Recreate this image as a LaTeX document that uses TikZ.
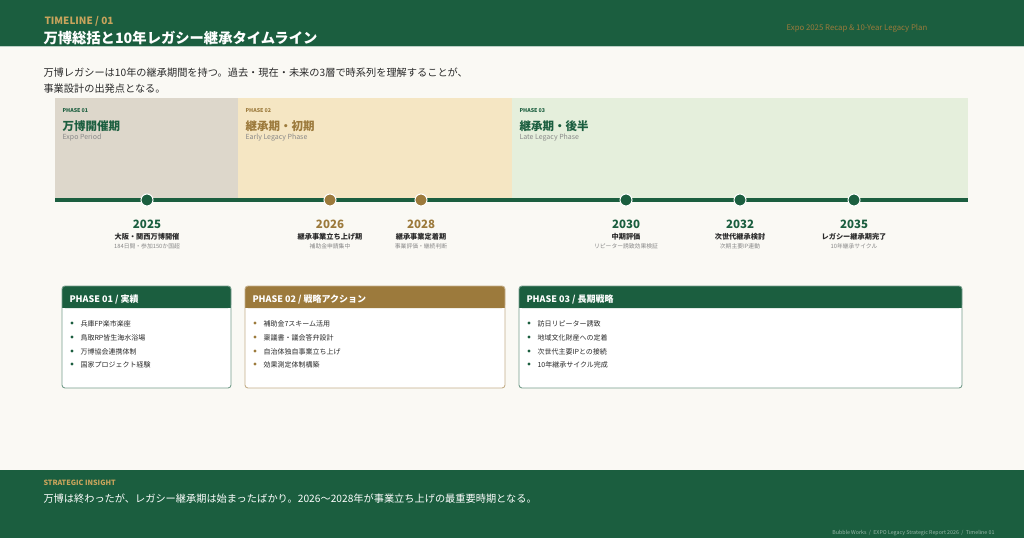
\documentclass[tikz,border=0pt]{standalone}
\usepackage{fontspec}
\setmainfont{Noto Sans CJK JP}
\definecolor{g}{HTML}{1B5E3F}
\definecolor{gold}{HTML}{9C7A3C}
\definecolor{lgold}{HTML}{C9A45C}
\definecolor{bg}{HTML}{FAF9F4}
\definecolor{b1}{HTML}{DDD7CB}
\definecolor{b2}{HTML}{F5E6C3}
\definecolor{b3}{HTML}{E5EFDC}
\definecolor{txt}{HTML}{2A2A2A}
\definecolor{gr}{HTML}{888888}
\begin{document}
\begin{tikzpicture}[x=1pt,y=-1pt,
  yr/.style={font=\fontsize{11.5}{11.5}\selectfont\bfseries},
  lb/.style={font=\fontsize{7.2}{7.2}\selectfont\bfseries,text=txt},
  sb/.style={font=\fontsize{5.8}{5.8}\selectfont,text=gr},
  dotg/.style={circle,fill=g,draw=white,line width=1pt,minimum size=12pt,inner sep=0},
  dotd/.style={circle,fill=gold,draw=white,line width=1pt,minimum size=12pt,inner sep=0},
  bul/.style={anchor=west,font=\fontsize{7}{7}\selectfont,text=txt},
  ch/.style={anchor=west,font=\fontsize{9}{9}\selectfont\bfseries,text=white}]
\useasboundingbox (0,0) rectangle (1024,538);
\fill[bg] (0,0) rectangle (1024,538);
\fill[g] (0,0) rectangle (1024,46);
\draw[white!70!g,line width=1pt] (0,46.5) -- (1024,46.5);
\node[anchor=west,text=lgold,font=\fontsize{10}{10}\selectfont\bfseries] (t1) at (41,21) {TIMELINE / 01};
\node[anchor=west,text=white,font=\fontsize{14.3}{14.3}\selectfont\bfseries] (t2) at (40,38) {万博総括と10年レガシー継承タイムライン};
\node[anchor=west,text=gold,font=\fontsize{7.8}{7.8}\selectfont] (t3) at (783,28) {Expo 2025 Recap \& 10-Year Legacy Plan};
\node[anchor=west,text=txt,font=\fontsize{10.2}{10.2}\selectfont] (i1) at (40,73) {万博レガシーは10年の継承期間を持つ。過去・現在・未来の3層で時系列を理解することが、};
\node[anchor=west,text=txt,font=\fontsize{10.2}{10.2}\selectfont] (i2) at (40,89) {事業設計の出発点となる。};
% bands
\fill[b1] (55,98) rectangle (238,200);
\fill[b2] (238,98) rectangle (512,200);
\fill[b3] (512,98) rectangle (968,200);
\foreach \x/\c/\p/\t/\e in {59/g/01/万博開催期/Expo Period,242/gold/02/継承期・初期/Early Legacy Phase,516/g/03/継承期・後半/Late Legacy Phase}{
  \node[anchor=west,text=\c,font=\fontsize{5.3}{5.3}\selectfont\bfseries] at (\x,111) {PHASE \p};
  \node[anchor=west,text=\c,font=\fontsize{11.5}{11.5}\selectfont\bfseries] at (\x,126) {\t};
  \node[anchor=west,text=gr,font=\fontsize{7}{7}\selectfont] at (\x,138) {\e};
}
\coordinate (ls) at (55,200); \coordinate (le) at (968,200);
\draw[g,line width=4.5pt] (ls) -- (le);
\foreach \n/\x/\s/\c/\y/\l/\u in {a/147/dotg/g/2025/大阪・関西万博開催/184日間・参加150か国超,
 b/330/dotd/gold/2026/継承事業立ち上げ期/補助金申請集中,
 c/421/dotd/gold/2028/継承事業定着期/事業評価・継続判断,
 d/626/dotg/g/2030/中期評価/リピーター誘致効果検証,
 e/740/dotg/g/2032/次世代継承検討/次期主要IP連動,
 f/854/dotg/g/2035/レガシー継承期完了/10年継承サイクル}{
  \node[\s] (d\n) at (\x,200) {};
  \node[yr,text=\c] (y\n) at (\x,224) {\y};
  \node[lb] (l\n) at (\x,237) {\l};
  \node[sb] (s\n) at (\x,246) {\u};
}
% cards
\foreach \n/\xa/\xb/\c/\bc/\h in {p1/62/231/g/g!60!white/{PHASE 01 / 実績},p2/245/505/gold/gold!60!white/{PHASE 02 / 戦略アクション},p3/519/962/g/g!60!white/{PHASE 03 / 長期戦略}}{
  \fill[white,rounded corners=3pt] (\xa,286) rectangle (\xb,388);
  \fill[\c,rounded corners=3pt] (\xa,286) rectangle (\xb,308);
  \fill[\c] (\xa,300) rectangle (\xb,308);
  \draw[\bc,line width=0.9pt,rounded corners=3pt] (\xa,286) rectangle (\xb,388);
  \node[ch] (\n) at (\xa+4,299) {\h};
}
\foreach \xa/\c/\i/\y/\t in {62/g/1/324/兵庫FP楽市楽座,62/g/2/338/鳥取RP皆生海水浴場,62/g/3/352/万博協会連携体制,62/g/4/365/国家プロジェクト経験,
 245/gold/1/324/補助金7スキーム活用,245/gold/2/338/稟議書・議会答弁設計,245/gold/3/352/自治体独自事業立ち上げ,245/gold/4/365/効果測定体制構築,
 519/g/1/324/訪日リピーター誘致,519/g/2/338/地域文化財産への定着,519/g/3/352/次世代主要IPとの接続,519/g/4/365/10年継承サイクル完成}{
  \fill[\c] (\xa+10,\y-1) circle (1.6pt);
  \node[bul] at (\xa+15,\y) {\t};
}
% footer
\fill[g] (0,470) rectangle (1024,538);
\node[anchor=west,text=lgold,font=\fontsize{7.2}{7.2}\selectfont\bfseries] (f1) at (40,483) {STRATEGIC INSIGHT};
\node[anchor=west,text=white,font=\fontsize{10.2}{10.2}\selectfont] (f2) at (40,499) {万博は終わったが、レガシー継承期は始まったばかり。2026〜2028年が事業立ち上げの最重要時期となる。};
\node[anchor=east,text=white!55!g,font=\fontsize{5.3}{5.3}\selectfont] (f3) at (998,533) {Bubble Works \ / \ EXPO Legacy Strategic Report 2026 \ / \ Timeline 01};
\end{tikzpicture}
\end{document}
